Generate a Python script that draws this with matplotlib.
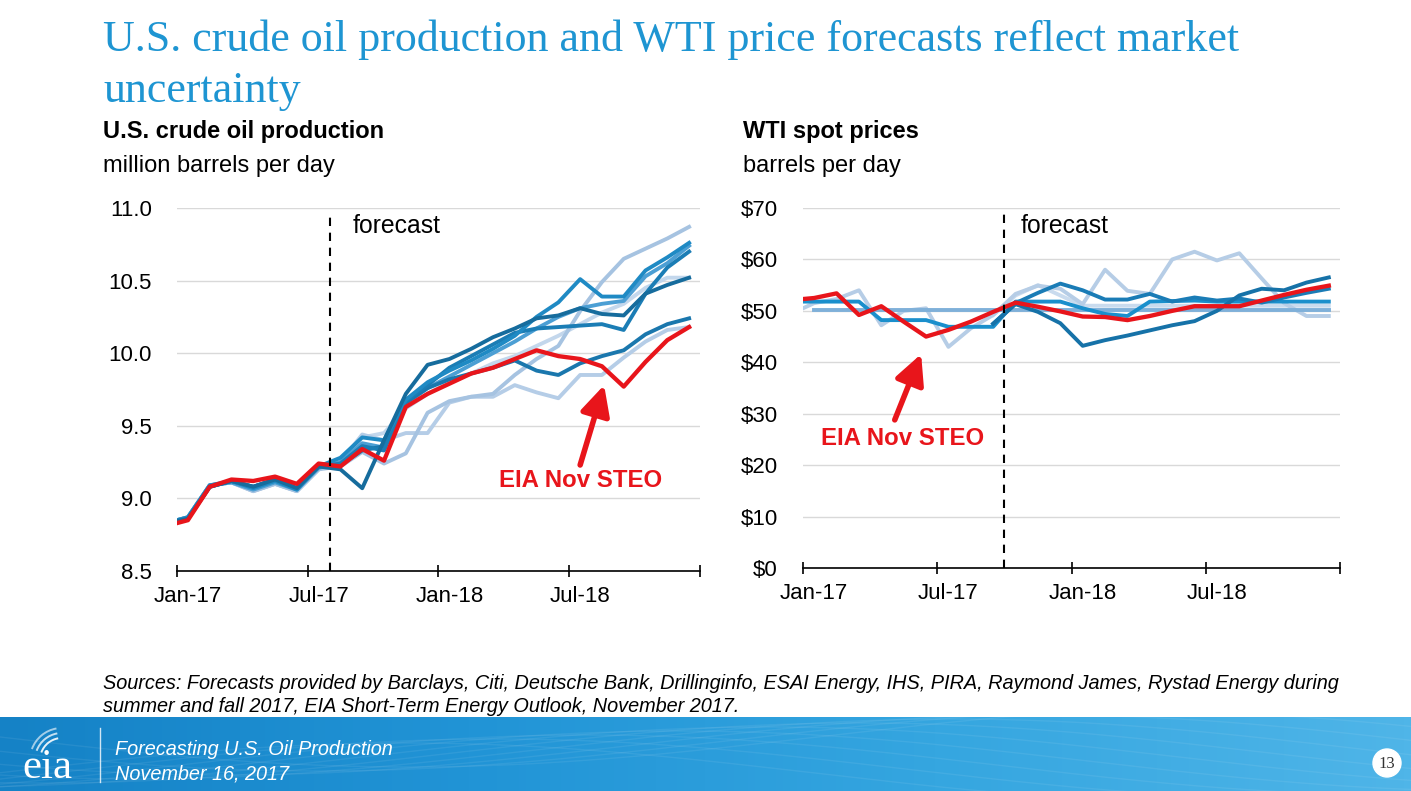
import numpy as np
import matplotlib
matplotlib.use("Agg")
import matplotlib.pyplot as plt
from matplotlib.patches import Circle, Arc
from matplotlib.colors import LinearSegmentedColormap

W, H = 1411, 791
plt.rcParams['font.family'] = ['Liberation Sans', 'DejaVu Sans']

# ---------------- data ----------------
months = ['Dec-16',
          'Jan-17', 'Feb-17', 'Mar-17', 'Apr-17', 'May-17', 'Jun-17',
          'Jul-17', 'Aug-17', 'Sep-17', 'Oct-17', 'Nov-17', 'Dec-17',
          'Jan-18', 'Feb-18', 'Mar-18', 'Apr-18', 'May-18', 'Jun-18',
          'Jul-18', 'Aug-18', 'Sep-18', 'Oct-18', 'Nov-18', 'Dec-18']
tick_labels = ['Jan-17', 'Jul-17', 'Jan-18', 'Jul-18']
N = None

# U.S. crude oil production, million barrels per day
prod_steo = [8.81, 8.85, 9.08, 9.13, 9.12, 9.15, 9.10, 9.24, 9.22, 9.34, 9.26, 9.63, 9.72,
             9.79, 9.86, 9.90, 9.96, 10.02, 9.98, 9.96, 9.91, 9.77, 9.94, 10.09, 10.18]
prod_h = [8.83, 8.87, 9.09, 9.11, 9.05, 9.10, 9.05, 9.20, 9.22, 9.32, 9.24, 9.31, 9.59,
          9.67, 9.70, 9.72, 9.85, 9.96, 10.05, 10.29, 10.49, 10.65, 10.72, 10.79, 10.87]
prod_g = [8.83, 8.87, 9.09, 9.11, 9.05, 9.10, 9.05, 9.20, 9.25, 9.44, 9.40, 9.45, 9.45,
          9.66, 9.70, 9.70, 9.78, 9.73, 9.69, 9.85, 9.85, 9.97, 10.08, 10.16, 10.18]
prod_e = [8.83, 8.87, 9.09, 9.11, 9.05, 9.10, 9.05, 9.20, 9.26, 9.42, 9.45, 9.62, 9.72,
          9.80, 9.86, 9.93, 9.98, 10.05, 10.12, 10.20, 10.28, 10.34, 10.45, 10.52, 10.52]
prod_b = [8.83, 8.87, 9.09, 9.11, 9.06, 9.11, 9.06, 9.21, 9.25, 9.38, 9.35, 9.65, 9.76,
          9.84, 9.92, 10.00, 10.08, 10.17, 10.25, 10.31, 10.34, 10.36, 10.53, 10.62, 10.74]
prod_a = [8.83, 8.87, 9.09, 9.12, 9.07, 9.12, 9.06, 9.22, 9.28, 9.42, 9.40, 9.68, 9.80,
          9.88, 9.95, 10.03, 10.12, 10.25, 10.35, 10.51, 10.39, 10.39, 10.57, 10.66, 10.76]
prod_f = [8.83, 8.86, 9.08, 9.12, 9.08, 9.13, 9.07, 9.22, 9.23, 9.33, 9.36, 9.66, 9.76,
          9.82, 9.86, 9.90, 9.95, 9.88, 9.85, 9.93, 9.98, 10.02, 10.13, 10.20, 10.24]
prod_c = [8.83, 8.86, 9.08, 9.12, 9.08, 9.13, 9.07, 9.22, 9.24, 9.36, 9.33, 9.67, 9.78,
          9.90, 9.98, 10.06, 10.14, 10.17, 10.18, 10.19, 10.20, 10.16, 10.41, 10.59, 10.70]
prod_d = [8.83, 8.86, 9.08, 9.12, 9.08, 9.13, 9.07, 9.22, 9.20, 9.07, 9.40, 9.72, 9.92,
          9.96, 10.03, 10.11, 10.17, 10.24, 10.26, 10.31, 10.27, 10.26, 10.41, 10.47, 10.52]

# WTI spot prices, dollars per barrel
price_steo = [52.1, 52.5, 53.4, 49.2, 50.9, 47.9, 45.0, 46.3, 47.9, 49.8, 51.6, 50.8, 49.9,
              48.9, 48.8, 48.2, 49.0, 50.0, 50.9, 50.9, 50.9, 52.0, 53.1, 54.1, 54.9]
price_flat = [N, 50.2, 50.2, 50.2, 50.2, 50.2, 50.2, 50.2, 50.2, 50.2, 50.2, 50.2, 50.2,
              50.2, 50.2, 50.2, 50.2, 50.2, 50.2, 50.2, 50.2, 50.2, 50.2, 50.2, 50.2]
price_pale = [49.5, 51.5, 52.3, 54.0, 47.2, 50.0, 50.5, 43.0, 46.6, 49.2, 53.3, 54.9, 54.3,
              51.3, 58.0, 53.9, 53.3, 60.0, 61.5, 59.8, 61.2, 56.3, 51.5, 49.0, 49.0]
price_pale2 = [N, N, N, N, N, N, N, N, N, 49.2, 53.0, 55.0, 53.0,
               51.0, 51.0, 51.0, 51.0, 51.0, 51.0, 51.0, 51.0, 51.0, 51.0, 51.0, 51.0]
price_step = [51.8, 51.8, 51.8, 51.8, 48.2, 48.2, 48.2, 46.9, 46.9, 46.9, 51.8, 51.8, 51.8,
              50.5, 49.4, 49.0, 51.8, 51.9, 52.0, 51.8, 51.8, 51.8, 51.8, 51.8, 51.8]
price_dark = [N, N, N, N, N, N, N, N, N, 47.5, 51.5, 53.5, 55.3,
              54.0, 52.2, 52.2, 53.3, 51.8, 52.6, 52.0, 52.4, 51.6, 52.6, 53.5, 54.3]
price_dip = [N, N, N, N, N, N, N, N, N, 47.5, 51.3, 49.8, 47.6,
             43.2, 44.3, 45.2, 46.2, 47.2, 48.0, 50.0, 53.0, 54.3, 54.0, 55.5, 56.5]

# ---------------- styles ----------------
RED = '#e8151b'
prod_series = [(prod_e, '#c3d7ec'), (prod_g, '#b5cde7'), (prod_h, '#a6c3e1'),
               (prod_b, '#4c9fd4'), (prod_f, '#1a77ad'), (prod_c, '#1b7db5'),
               (prod_a, '#1f8ac4'), (prod_d, '#166c9d')]
price_series = [(price_pale2, '#c9dbee'), (price_pale, '#b6cde6'), (price_flat, '#7fb0d9'),
                (price_step, '#1a8fcc'), (price_dark, '#1a7cb6'), (price_dip, '#1672a8')]

x = np.arange(len(months)) - 1  # Dec-16 -> -1, Jan-17 -> 0


def arr(v):
    return np.array([np.nan if a is None else a for a in v], dtype=float)


fig = plt.figure(figsize=(W / 100, H / 100), dpi=100)
fig.patch.set_facecolor('white')


def fx(px):
    return px / W


def fy(py):
    return 1 - py / H


def setup_axes(ax, ylim, yticks, yfmt):
    ax.set_xlim(-0.5, 23.5)
    ax.set_ylim(*ylim)
    ax.set_yticks(yticks)
    ax.set_yticklabels([yfmt(v) for v in yticks], fontsize=16)
    ax.tick_params(axis='y', length=0, pad=18)
    ax.grid(axis='y', color='#d9d9d9', lw=1.0)
    ax.set_axisbelow(True)
    for s in ['top', 'right', 'left']:
        ax.spines[s].set_visible(False)
    ax.spines['bottom'].set_color('black')
    ax.spines['bottom'].set_linewidth(1.2)
    ax.set_xticks([-0.5, 5.5, 11.5, 17.5, 23.5])
    ax.set_xticklabels([])
    ax.tick_params(axis='x', which='major', direction='inout', length=9, width=1.2)
    ax.set_xticks([0, 6, 12, 18], minor=True)
    ax.set_xticklabels(tick_labels, minor=True, fontsize=16)
    ax.tick_params(axis='x', which='minor', length=0, pad=11)


# ---------------- left chart ----------------
axl = fig.add_axes([fx(177), fy(571), fx(700) - fx(177), fy(208) - fy(571)])
setup_axes(axl, (8.5, 11.0), [8.5, 9.0, 9.5, 10.0, 10.5, 11.0], lambda v: f'{v:.1f}')
for vals, col in prod_series:
    axl.plot(x, arr(vals), color=col, lw=2.8, clip_on=True)
axl.plot(x, arr(prod_steo), color=RED, lw=3.1, clip_on=True)
axl.axvline(6.5, ymin=0, ymax=0.985, color='black', ls=(0, (4, 3.2)), lw=1.5)
axl.text(7.57, 10.876, 'forecast', fontsize=17.8, va='center', ha='left')
axl.annotate('', xy=(19.1, 9.78), xytext=(18.0, 9.23),
             arrowprops=dict(arrowstyle='-|>,head_length=0.9,head_width=0.45',
                             color=RED, lw=4, mutation_scale=20, shrinkA=0, shrinkB=0))
axl.text(18.0, 9.12, 'EIA Nov STEO', color=RED, fontsize=17.3, fontweight='bold',
         ha='center', va='center')

# ---------------- right chart ----------------
axr = fig.add_axes([fx(803), fy(568), fx(1340) - fx(803), fy(208) - fy(568)])
setup_axes(axr, (0, 70), list(range(0, 71, 10)), lambda v: f'${int(v)}')
for vals, col in price_series:
    axr.plot(x, arr(vals), color=col, lw=2.8, clip_on=True)
axr.plot(x, arr(price_steo), color=RED, lw=3.1, clip_on=True)
axr.axvline(8.5, ymin=0, ymax=0.985, color='black', ls=(0, (4, 3.2)), lw=1.5)
axr.text(9.24, 66.5, 'forecast', fontsize=17.8, va='center', ha='left')
axr.annotate('', xy=(4.78, 41.6), xytext=(3.6, 28.8),
             arrowprops=dict(arrowstyle='-|>,head_length=0.9,head_width=0.45',
                             color=RED, lw=4, mutation_scale=20, shrinkA=0, shrinkB=0))
axr.text(3.97, 25.1, 'EIA Nov STEO', color=RED, fontsize=17.3, fontweight='bold',
         ha='center', va='center')

# ---------------- titles ----------------
TITLE_C = '#1e95d2'
fig.text(fx(103), fy(51), 'U.S. crude oil production and WTI price forecasts reflect market',
         fontsize=31.7, family='Liberation Serif', color=TITLE_C, va='baseline')
fig.text(fx(103), fy(102), 'uncertainty',
         fontsize=31.7, family='Liberation Serif', color=TITLE_C, va='baseline')
fig.text(fx(103), fy(138), 'U.S. crude oil production', fontsize=17, fontweight='bold',
         va='baseline')
fig.text(fx(103), fy(172), 'million barrels per day', fontsize=17, va='baseline')
fig.text(fx(743), fy(138), 'WTI spot prices', fontsize=17, fontweight='bold', va='baseline')
fig.text(fx(743), fy(172), 'barrels per day', fontsize=17, va='baseline')

fig.text(fx(103), fy(689), 'Sources: Forecasts provided by Barclays, Citi, Deutsche Bank, '
         'Drillinginfo, ESAI Energy, IHS, PIRA, Raymond James, Rystad Energy during',
         fontsize=14.3, style='italic', va='baseline')
fig.text(fx(103), fy(712), 'summer and fall 2017, EIA Short-Term Energy Outlook, November 2017.',
         fontsize=14.3, style='italic', va='baseline')

# ---------------- footer band ----------------
axf = fig.add_axes([0, 0, 1, fy(717)])
axf.set_xlim(0, W)
axf.set_ylim(H, 717)
axf.axis('off')
cmap = LinearSegmentedColormap.from_list('band', ['#1582c6', '#2194d6', '#35a6e0', '#4fb5e8'])
grad = np.linspace(0, 1, 400)[None, :]
axf.imshow(grad, cmap=cmap, aspect='auto', extent=[0, W, H, 717], zorder=0)
tt = np.linspace(0, W, 300)
for k in range(10):
    yy = 717 + 20 + 30 * np.sin(tt / 260.0 + k * 0.35) + k * 4
    axf.plot(tt, yy, color='white', alpha=0.07, lw=1)
axf.text(22, 778, 'eia', fontsize=31, family='Liberation Serif', color='white',
         va='baseline')
for r, a in [(22, 0.9), (27, 0.75), (32, 0.6)]:
    axf.add_patch(Arc((62, 760), 2 * r, 2 * r, theta1=200, theta2=260, color='white',
                      lw=1.4, alpha=a))
axf.plot([100, 100], [728, 782], color='white', lw=1, alpha=0.8)
axf.text(115, 755, 'Forecasting U.S. Oil Production', fontsize=14.3, style='italic',
         color='white', va='baseline')
axf.text(115, 779, 'November 16, 2017', fontsize=14.3, style='italic', color='white',
         va='baseline')
axf.add_patch(Circle((1387, 763), 14, color='white', zorder=3))
axf.text(1387, 764, '13', fontsize=12, family='Liberation Serif', color='#333333',
         ha='center', va='center', zorder=4)

fig.savefig('out.png', dpi=100)
